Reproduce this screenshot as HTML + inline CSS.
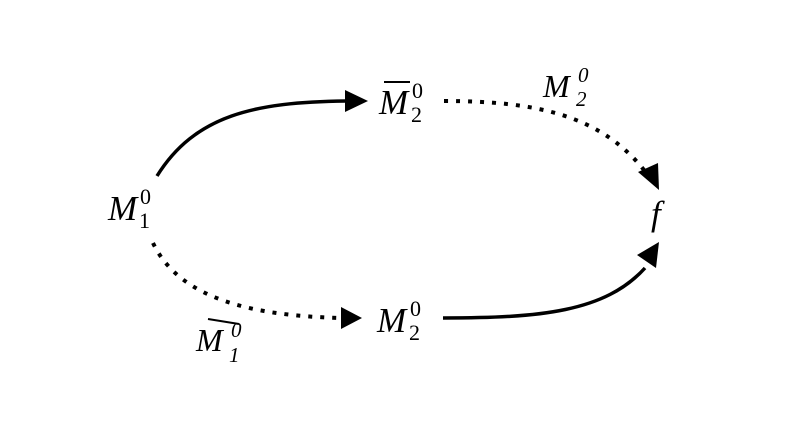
<!DOCTYPE html>
<html><head><style>
html,body{margin:0;padding:0;background:#fff;}
svg{display:block;}
text{font-family:"Liberation Serif",serif;fill:#000;}
</style></head><body>
<svg width="797" height="432" viewBox="0 0 797 432" xmlns="http://www.w3.org/2000/svg">
<g fill="none" stroke="#000" stroke-width="3.5">
<path d="M157,176 C195,115 255,102 346,101"/>
<path d="M443,318 C540,318 605,312 645,268"/>
</g>
<g fill="none" stroke="#000" stroke-width="4" stroke-dasharray="4,8">
<path d="M444,101 C535,101 600,115 644,170"/>
<path d="M153,243 C180,300 255,316 342,318"/>
</g>
<g fill="#000">
<polygon points="368,101 345,90 345,112"/>
<polygon points="362,318 341,307 341,329"/>
<polygon points="659,190 638,172 658,163"/>
<polygon points="659,242 656,268 637,255"/>
</g>
<g font-style="italic">
<text x="108" y="220" font-size="35">M</text>
<text x="140" y="204" font-size="22" font-style="normal">0</text>
<text x="139" y="228" font-size="22" font-style="normal">1</text>

<text x="379" y="114" font-size="35">M</text>
<text x="412" y="98" font-size="22" font-style="normal">0</text>
<text x="411" y="122" font-size="22" font-style="normal">2</text>
<line x1="384" y1="82" x2="410" y2="82" stroke="#000" stroke-width="2"/>

<text x="377" y="332" font-size="35">M</text>
<text x="410" y="316" font-size="22" font-style="normal">0</text>
<text x="409" y="340" font-size="22" font-style="normal">2</text>

<text x="651" y="225" font-size="35">f</text>

<text x="543" y="97" font-size="32">M</text>
<text x="578" y="82" font-size="21">0</text>
<text x="576" y="106" font-size="21">2</text>

<text x="196" y="351" font-size="32">M</text>
<text x="231" y="337" font-size="21">0</text>
<text x="229" y="362" font-size="21">1</text>
<line x1="208" y1="319" x2="239" y2="324" stroke="#000" stroke-width="2"/>
</g>
</svg>
</body></html>
